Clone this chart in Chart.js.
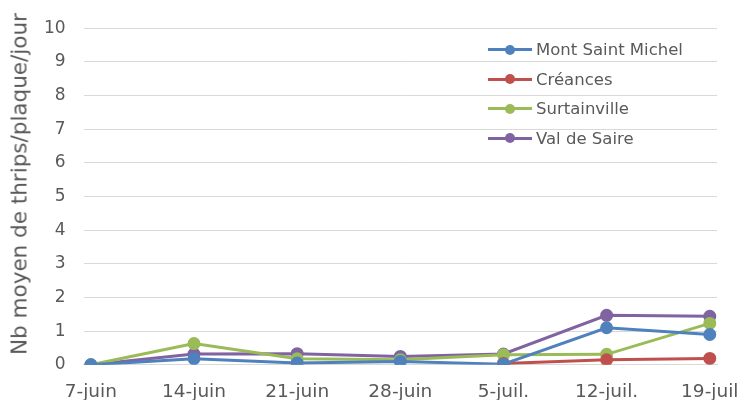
<!DOCTYPE html>
<html>
<head>
<meta charset="utf-8">
<script src="https://cdn.jsdelivr.net/npm/chart.js@4/dist/chart.umd.min.js"></script>
<style>
    body { margin: 0; background: #fff; }
    #wrap { position: relative; width: 740px; height: 400px; }
    #y_title {
        position: absolute; left: 19px; top: 184px;
        transform: translate(-50%, -50%) rotate(-90deg);
        white-space: nowrap;
        font: 21.5px "DejaVu Sans", Verdana, sans-serif;
        color: #595959;
    }
    #legend_thrips { position: absolute; left: 488px; top: 35px; }
    #legend_thrips ul { list-style: none; margin: 0; padding: 0; }
    #legend_thrips li { display: flex; align-items: center; height: 29.5px; }
</style>
</head>
<body>
<div id="wrap">
    <canvas id="chart_thrips" width="740" height="400"></canvas>
    <div id="y_title">Nb moyen de thrips/plaque/jour</div>
    <div id="legend_thrips"></div>
</div>
<script>
const dates = ['7-juin', '14-juin', '21-juin', '28-juin', '5-juil.', '12-juil.', '19-juil'];

const montSaintMichel = [0, 0.18, 0.05, 0.1, 0.02, 1.1, 0.9];
const creances = [null, null, null, null, 0.04, 0.15, 0.19];
const surtainville = [0, 0.63, 0.18, 0.15, 0.3, 0.31, 1.23];
const valDeSaire = [0, 0.32, 0.33, 0.25, 0.32, 1.47, 1.44];

const yTicks = [0, 1, 2, 3, 4, 5, 6, 7, 8, 9, 10];

const textColor = '#595959';
const fontFamily = '"DejaVu Sans", Verdana, sans-serif';

function toPoints(arr) {
    return arr.map((v, i) => ({ x: i, y: v }));
}

function makeSeries(label, values, color) {
    return {
        label: label,
        data: toPoints(values),
        borderColor: color,
        backgroundColor: color,
        borderWidth: 3,
        pointRadius: 5,
        pointHoverRadius: 5,
        tension: 0,
        spanGaps: false
    };
}

const htmlLegendPlugin = {
    id: 'htmlLegend',
    afterUpdate(chart, args, options) {
        const box = document.getElementById(options.containerID);
        let ul = box.querySelector('ul');
        if (!ul) {
            ul = document.createElement('ul');
            box.appendChild(ul);
        }
        while (ul.firstChild) {
            ul.firstChild.remove();
        }

        const items = chart.options.plugins.legend.labels.generateLabels(chart);
        items.forEach(item => {
            const li = document.createElement('li');

            // line with a dot in the middle
            const icon = document.createElement('span');
            icon.style.position = 'relative';
            icon.style.display = 'inline-block';
            icon.style.width = '44px';
            icon.style.height = '3px';
            icon.style.background = item.strokeStyle;
            icon.style.marginRight = '4px';

            const dot = document.createElement('span');
            dot.style.position = 'absolute';
            dot.style.left = '17px';
            dot.style.top = '-3.5px';
            dot.style.width = '10px';
            dot.style.height = '10px';
            dot.style.borderRadius = '50%';
            dot.style.background = item.strokeStyle;
            icon.appendChild(dot);

            const text = document.createElement('span');
            text.style.font = '16.5px ' + fontFamily;
            text.style.color = textColor;
            text.style.whiteSpace = 'nowrap';
            text.textContent = item.text;

            li.appendChild(icon);
            li.appendChild(text);
            ul.appendChild(li);
        });
    }
};

const ctx = document.getElementById('chart_thrips').getContext('2d');

new Chart(ctx, {
    type: 'line',
    data: {
        datasets: [
            makeSeries('Mont Saint Michel', montSaintMichel, '#4F81BD'),
            makeSeries('Créances', creances, '#C0504D'),
            makeSeries('Surtainville', surtainville, '#9BBB59'),
            makeSeries('Val de Saire', valDeSaire, '#8064A2')
        ]
    },
    plugins: [htmlLegendPlugin],
    options: {
        responsive: false,
        animation: false,
        layout: {
            // left padding leaves room for the html axis title
            padding: { top: 26, right: 23, left: 26, bottom: -11 }
        },
        plugins: {
            htmlLegend: { containerID: 'legend_thrips' },
            legend: { display: false },
            tooltip: { enabled: false }
        },
        scales: {
            x: {
                type: 'linear',
                min: -0.07,
                max: 6.07,
                afterBuildTicks: axis => {
                    axis.ticks = dates.map((d, i) => ({ value: i }));
                },
                // let the end labels hang past the plot edges, as in the original
                afterFit: axis => {
                    axis.paddingLeft = 0;
                    axis.paddingRight = 0;
                },
                ticks: {
                    callback: value => dates[value],
                    color: textColor,
                    font: { family: fontFamily, size: 18.5 },
                    padding: 8,
                    maxRotation: 0,
                    autoSkip: false
                },
                grid: { display: false },
                border: { color: '#d9d9d9', width: 1 }
            },
            y: {
                min: 0,
                max: 10,
                afterBuildTicks: axis => {
                    axis.ticks = yTicks.map(v => ({ value: v }));
                },
                ticks: {
                    color: textColor,
                    font: { family: fontFamily, size: 17 },
                    padding: 18
                },
                grid: {
                    color: '#d9d9d9',
                    drawTicks: false
                },
                border: { display: false }
            }
        }
    }
});
</script>
</body>
</html>
